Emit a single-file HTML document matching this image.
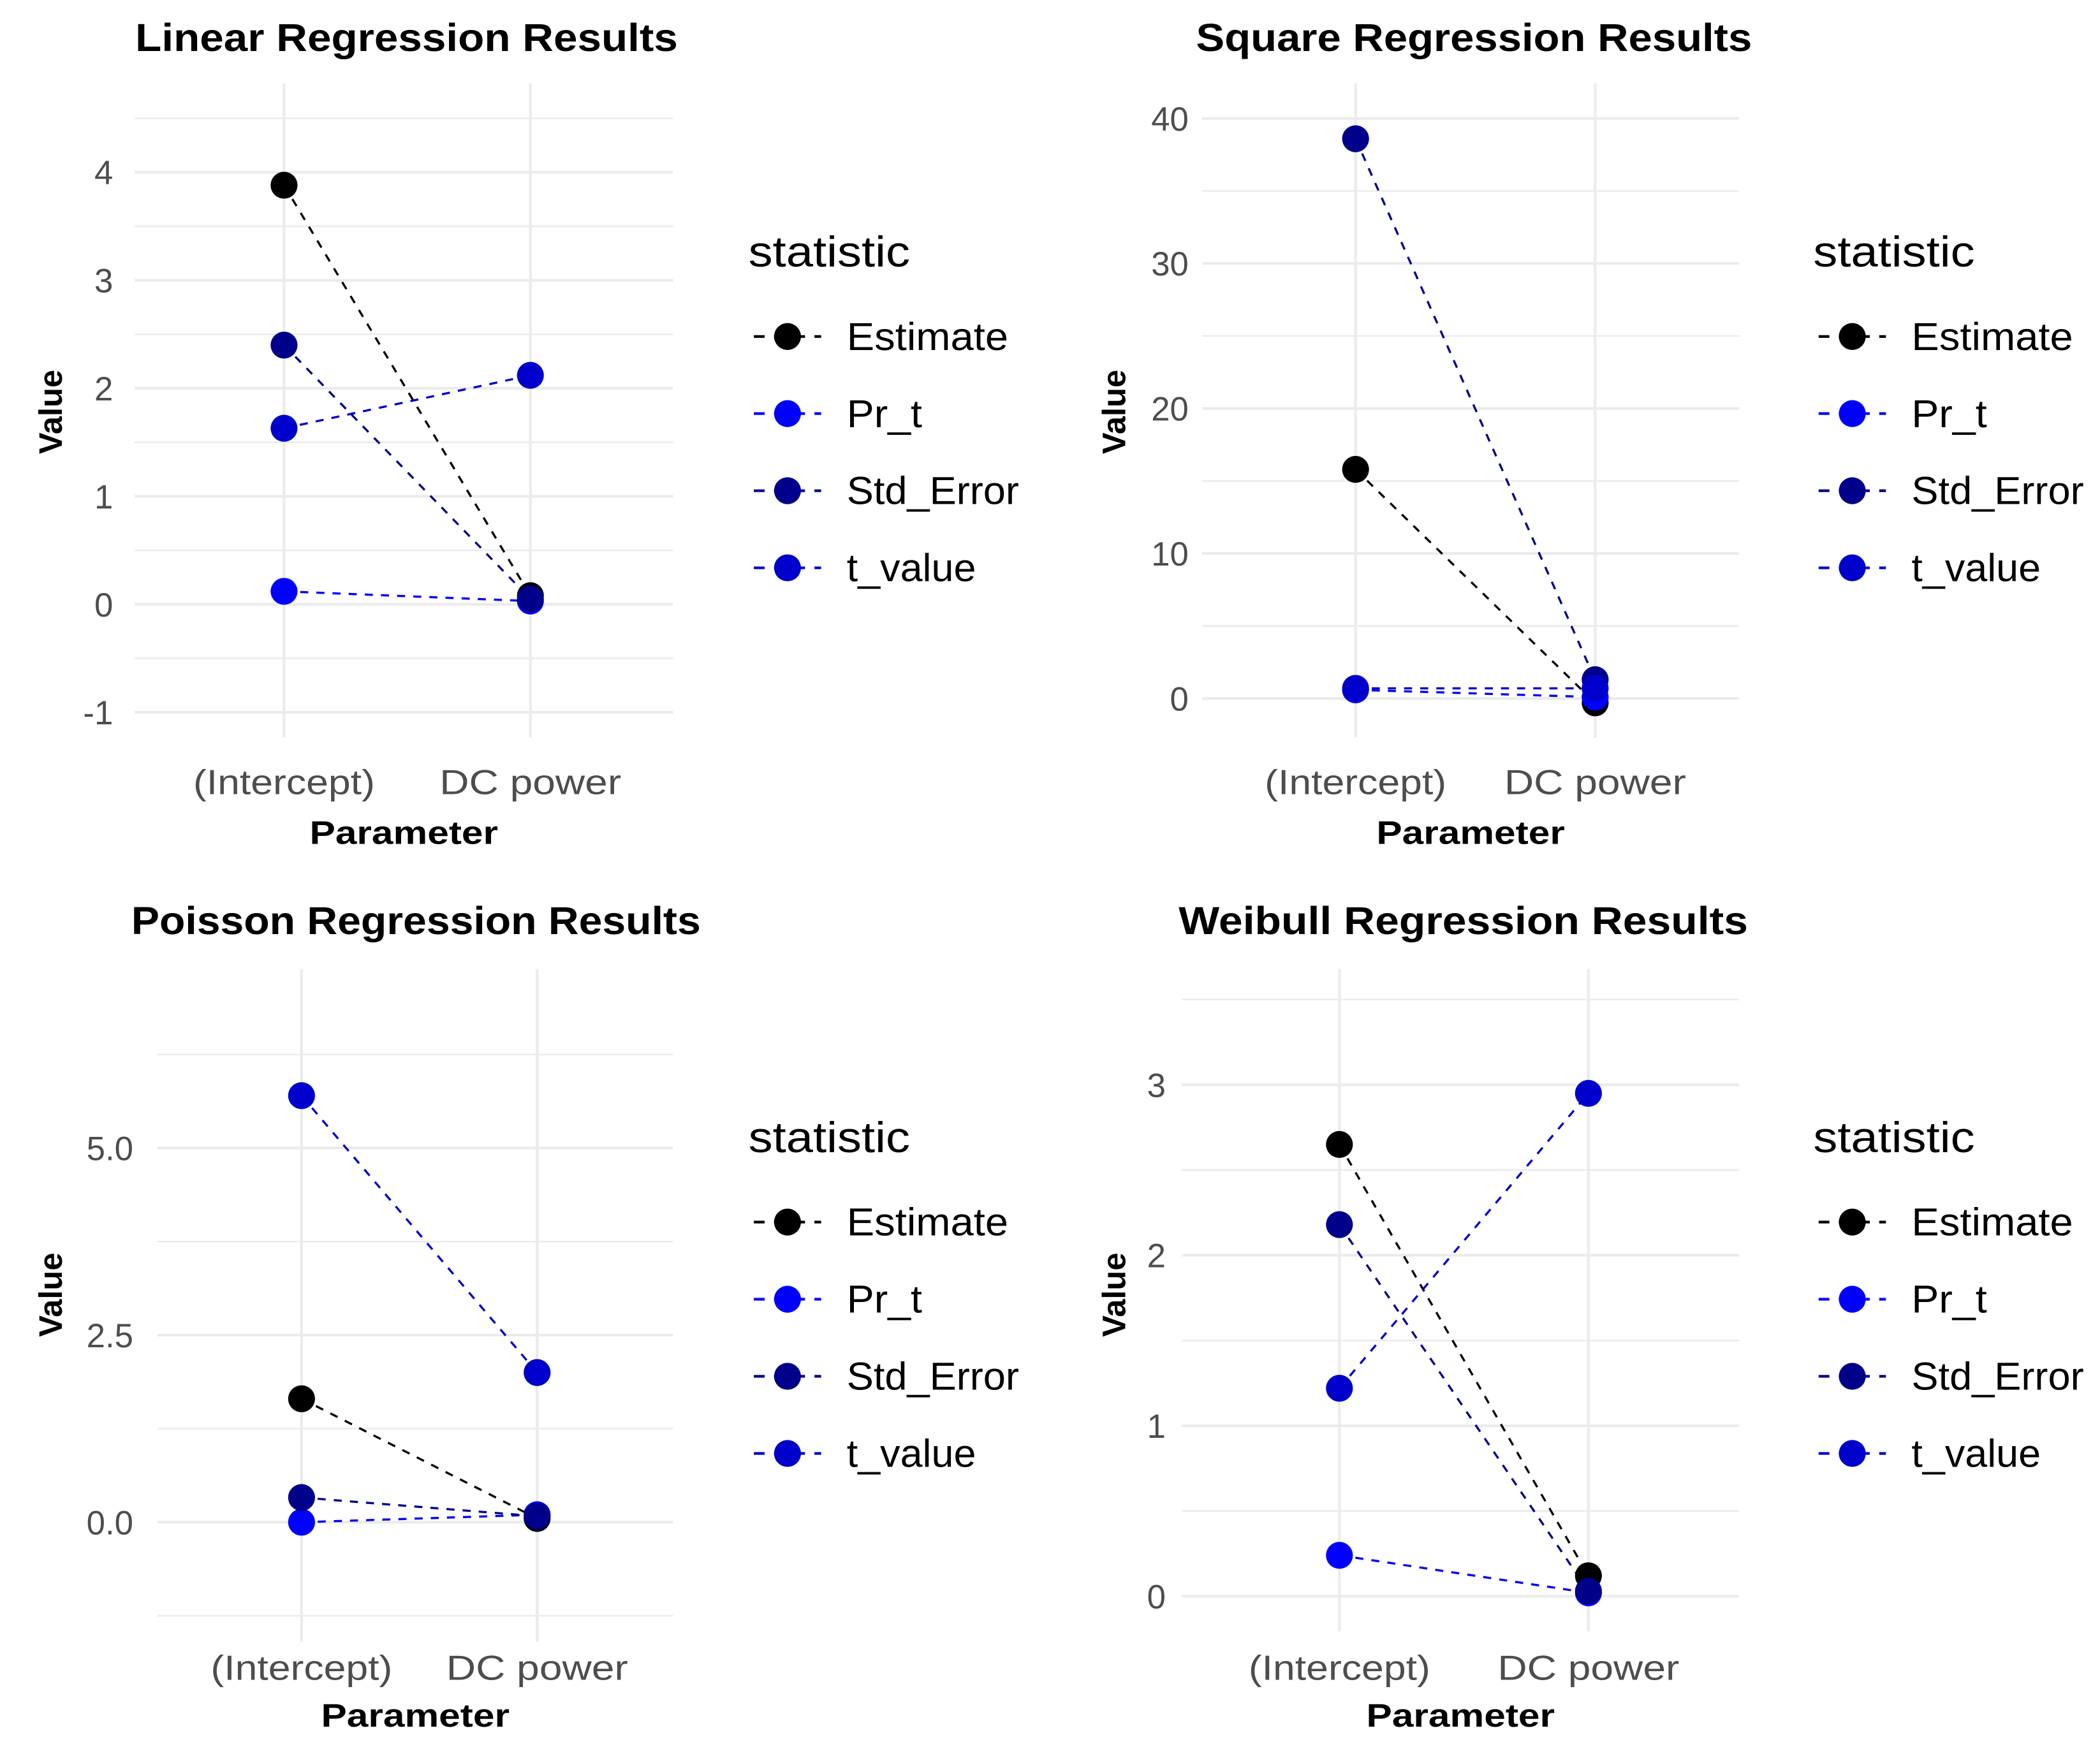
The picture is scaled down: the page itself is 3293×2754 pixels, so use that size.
<!DOCTYPE html>
<html><head><meta charset="utf-8"><style>
html,body{margin:0;padding:0;background:#fff;}
svg{display:block;font-family:"Liberation Sans",sans-serif;}
</style></head><body>
<svg id="chart" width="3293" height="2754" viewBox="0 0 1560 1304.7" xmlns="http://www.w3.org/2000/svg"></svg>
<script>
const params = ["(Intercept)", "DC power"];
const stats = ["Estimate", "Pr_t", "Std_Error", "t_value"];
const linearEstimate = [3.88, 0.08];
const linearPr = [0.12, 0.03];
const linearStd = [2.4, 0.05];
const linearT = [1.63, 2.12];
const squareEstimate = [15.8, -0.3];
const squarePr = [0.6, 0.1];
const squareStd = [38.6, 1.3];
const squareT = [0.7, 0.7];
const poissonEstimate = [1.65, 0.05];
const poissonPr = [0.0, 0.1];
const poissonStd = [0.33, 0.08];
const poissonT = [5.7, 2.0];
const weibullEstimate = [2.65, 0.12];
const weibullPr = [0.24, 0.02];
const weibullStd = [2.18, 0.03];
const weibullT = [1.22, 2.95];
const linearTicks = [-1, 0, 1, 2, 3, 4];
const squareTicks = [0, 10, 20, 30, 40];
const poissonTicks = [0, 2.5, 5];
const weibullTicks = [0, 1, 2, 3];

const colors = {Estimate:"#000000", Pr_t:"#0000FF", Std_Error:"#00008B", t_value:"#0000CD"};
const NS = "http://www.w3.org/2000/svg";
const svg = document.getElementById("chart");
function mk(tag, attrs, parent){const e=document.createElementNS(NS,tag);for(const k in attrs)e.setAttribute(k,attrs[k]);(parent||svg).appendChild(e);return e;}

const panels = [
 {key:"linear", title:"Linear Regression Results", tcx:302, tw:403, px0:100, px1:500, py0:62, py1:548, x0:211, x1:394, v0:0, y0:449, v1:4, y1:128, ticks:linearTicks, minorStep:1, dec:0,
  series:{Estimate:linearEstimate, Pr_t:linearPr, Std_Error:linearStd, t_value:linearT}, tickX:84, xlabY:590, xtitleY:627, ytitleX:46, ytitleY:306, titleY:38, legX:556, legY:198},
 {key:"square", title:"Square Regression Results", tcx:1095, tw:413, px0:893, px1:1292, py0:62, py1:548, x0:1007, x1:1185, v0:0, y0:519, v1:40, y1:88, ticks:squareTicks, minorStep:10, dec:0,
  series:{Estimate:squareEstimate, Pr_t:squarePr, Std_Error:squareStd, t_value:squareT}, tickX:883, xlabY:590, xtitleY:627, ytitleX:836, ytitleY:306, titleY:38, legX:1347, legY:198},
 {key:"poisson", title:"Poisson Regression Results", tcx:309, tw:423, px0:117, px1:500, py0:720, py1:1220, x0:224, x1:399, v0:0, y0:1131, v1:5, y1:853, ticks:poissonTicks, minorStep:2.5, dec:1,
  series:{Estimate:poissonEstimate, Pr_t:poissonPr, Std_Error:poissonStd, t_value:poissonT}, tickX:99, xlabY:1248, xtitleY:1283, ytitleX:46, ytitleY:962, titleY:694, legX:556, legY:856},
 {key:"weibull", title:"Weibull Regression Results", tcx:1087, tw:423, px0:878, px1:1292, py0:720, py1:1212, x0:995, x1:1180, v0:0, y0:1186, v1:3, y1:806, ticks:weibullTicks, minorStep:1, dec:0,
  series:{Estimate:weibullEstimate, Pr_t:weibullPr, Std_Error:weibullStd, t_value:weibullT}, tickX:866, xlabY:1248, xtitleY:1283, ytitleX:836, ytitleY:962, titleY:694, legX:1347, legY:856}
];

panels.forEach(p=>{
  const g = mk("g",{});
  
  
  const yScale = v => p.y0 + (v - p.v0) * (p.y1 - p.y0) / (p.v1 - p.v0);
  const xScale = i => i===0 ? p.x0 : p.x1;
  const vTop = p.v0 + (p.py0 - p.y0) * (p.v1 - p.v0) / (p.y1 - p.y0);
  const vBot = p.v0 + (p.py1 - p.y0) * (p.v1 - p.v0) / (p.y1 - p.y0);
  const half = p.minorStep/2;
  for(let v = Math.ceil((vBot - half)/p.minorStep)*p.minorStep + half; v <= vTop; v += p.minorStep){
    const y = yScale(v);
    if (y < p.py0+8 || y > p.py1-8) continue;
    const l = mk("line",{x1:p.px0,x2:p.px1,y1:y,y2:y,stroke:"#ebebeb","stroke-width":1.2},g);
    
    
  }
  p.ticks.forEach(t=>{
    const y = yScale(t);
    const l = mk("line",{x1:p.px0,x2:p.px1,y1:y,y2:y,stroke:"#ebebeb","stroke-width":2},g);
    
    
    const tx = mk("text",{x:p.tickX,y:y+9,"text-anchor":"end","font-size":25,fill:"#4d4d4d"},g);
    tx.textContent = t.toFixed(p.dec);
    
    
  });
  params.forEach((pr,i)=>{
    const x = xScale(i);
    const l = mk("line",{x1:x,x2:x,y1:p.py0,y2:p.py1,stroke:"#ebebeb","stroke-width":2},g);
    
    
    const tx = mk("text",{x:x,y:p.xlabY,"text-anchor":"middle","font-size":26,fill:"#4d4d4d",textLength:135,lengthAdjust:"spacingAndGlyphs"},g);
    tx.textContent = pr;
    
    
  });
  stats.forEach(s=>{
    const vals = p.series[s];
    const ln = mk("line",{x1:xScale(0),y1:yScale(vals[0]),x2:xScale(1),y2:yScale(vals[1]),stroke:colors[s],"stroke-width":1.6,"stroke-dasharray":"6,6"},g);
    
    
  });
  stats.forEach(s=>{
    const vals = p.series[s];
    vals.forEach((v,i)=>{
      const c = mk("circle",{cx:xScale(i),cy:yScale(v),r:10,fill:colors[s]},g);
      
      
    });
  });
  const tt = mk("text",{x:p.tcx,y:p.titleY,"text-anchor":"middle","font-size":29,"font-weight":"bold",fill:"#000",textLength:p.tw,lengthAdjust:"spacingAndGlyphs"},g);
  tt.textContent = p.title;
  
  
  const xt = mk("text",{x:(p.px0+p.px1)/2,y:p.xtitleY,"text-anchor":"middle","font-size":24,"font-weight":"bold",fill:"#000",textLength:140,lengthAdjust:"spacingAndGlyphs"},g);
  xt.textContent = "Parameter";
  
  
  const yt = mk("text",{x:p.ytitleX,y:p.ytitleY,"text-anchor":"middle","font-size":24,"font-weight":"bold",fill:"#000",transform:`rotate(-90 ${p.ytitleX} ${p.ytitleY})`},g);
  yt.textContent = "Value";
  
  
  const lg = mk("g",{},g);
  
  
  const lt = mk("text",{x:p.legX,y:p.legY,"font-size":32,fill:"#000",textLength:120,lengthAdjust:"spacingAndGlyphs"},lg);
  lt.textContent = "statistic";
  
  
  const lw = {Estimate:120, Pr_t:56, Std_Error:128, t_value:96};
  stats.forEach((s,k)=>{
    const cy = p.legY + 52 + k*57.3;
    const e = mk("g",{},lg);
    
    
    mk("line",{x1:p.legX+4,x2:p.legX+54,y1:cy,y2:cy,stroke:colors[s],"stroke-width":2,"stroke-dasharray":"8,7"},e);
    mk("circle",{cx:p.legX+29,cy:cy,r:10,fill:colors[s]},e);
    const et = mk("text",{x:p.legX+73,y:cy+10,"font-size":29,fill:"#000",textLength:lw[s],lengthAdjust:"spacingAndGlyphs"},e);
    et.textContent = s;
    
    
  });
});
</script>
</body></html>
